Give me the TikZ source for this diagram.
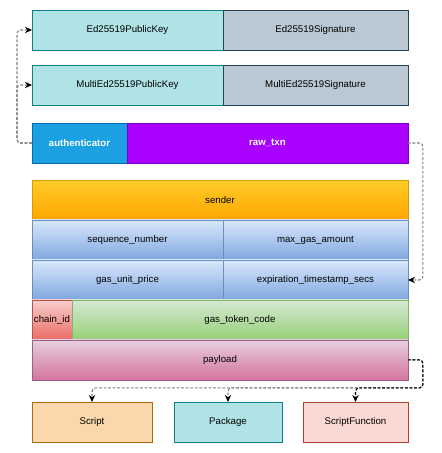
\documentclass[tikz,border=0pt]{standalone}
\usepackage{fontspec}
\setmainfont{Liberation Sans}
\usetikzlibrary{positioning,arrows.meta}

\definecolor{keyfill}{HTML}{B0E3E6}
\definecolor{keyline}{HTML}{0E8088}
\definecolor{sigfill}{HTML}{BAC8D3}
\definecolor{sigline}{HTML}{23445D}
\definecolor{authfill}{HTML}{1BA1E2}
\definecolor{authline}{HTML}{006EAF}
\definecolor{rawfill}{HTML}{AA00FF}
\definecolor{rawline}{HTML}{7700CC}
\definecolor{sendtop}{HTML}{FFCD28}
\definecolor{sendbot}{HTML}{FFA500}
\definecolor{sendline}{HTML}{D79B00}
\definecolor{bluetop}{HTML}{DAE8FC}
\definecolor{bluebot}{HTML}{7EA6E0}
\definecolor{blueline}{HTML}{6C8EBF}
\definecolor{redtop}{HTML}{F8CECC}
\definecolor{redbot}{HTML}{EA6B66}
\definecolor{redline}{HTML}{B85450}
\definecolor{greentop}{HTML}{D5E8D4}
\definecolor{greenbot}{HTML}{97D077}
\definecolor{greenline}{HTML}{82B366}
\definecolor{pinktop}{HTML}{E6D0DE}
\definecolor{pinkbot}{HTML}{D5739D}
\definecolor{pinkline}{HTML}{996185}
\definecolor{scriptfill}{HTML}{FAD7AC}
\definecolor{scriptline}{HTML}{B46504}
\definecolor{funcfill}{HTML}{FAD9D5}
\definecolor{funcline}{HTML}{AE4132}

\begin{document}
\begin{tikzpicture}[x=0.02cm, y=-0.02cm,
    field/.style={draw, line width=0.45pt, minimum height=0.8cm, inner sep=0pt, outer sep=0pt,
        font=\fontsize{5.5}{6.5}\selectfont},
    keybox/.style={field, fill=keyfill, draw=keyline},
    sigbox/.style={field, fill=sigfill, draw=sigline},
    bluebox/.style={field, top color=bluetop, bottom color=bluebot, draw=blueline},
    link/.style={dash pattern=on 1.6pt off 1pt, line width=0.6pt, rounded corners=2pt,
        -{Stealth[length=4pt,width=3.6pt,black]}},
    greylink/.style={link, draw=black!50}]
	\useasboundingbox (0,0) rectangle (441,453);

	% Signature variants of the authenticator
	\node (edpk) at (32,10) [keybox, anchor=north west, minimum width=3.82cm] {Ed25519PublicKey};
	\node (edsig) [sigbox, right=0pt of edpk, minimum width=3.70cm] {Ed25519Signature};
	\node (multipk) at (32,65) [keybox, anchor=north west, minimum width=3.82cm] {MultiEd25519PublicKey};
	\node (multisig) [sigbox, right=0pt of multipk, minimum width=3.70cm] {MultiEd25519Signature};

	% The signed transaction
	\node (auth) at (32,123) [field, anchor=north west, minimum width=1.9cm,
		fill=authfill, draw=authline, text=white, font=\fontsize{5.5}{6.5}\selectfont\bfseries] {authenticator};
	\node (raw) [field, right=0pt of auth, minimum width=5.62cm,
		fill=rawfill, draw=rawline, text=white, font=\fontsize{5.5}{6.5}\selectfont\bfseries] {raw\_txn};

	% Then the fields of raw_txn
	\node (sender) at (32,180) [field, anchor=north west, minimum width=7.52cm,
		top color=sendtop, bottom color=sendbot, draw=sendline] {sender};
	\node (seqnum) [bluebox, below=0pt of sender.south west, anchor=north west, minimum width=3.82cm] {sequence\_number};
	\node (maxgas) [bluebox, right=0pt of seqnum, minimum width=3.70cm] {max\_gas\_amount};
	\node (gasprice) [bluebox, below=0pt of seqnum, minimum width=3.82cm] {gas\_unit\_price};
	\node (expiry) [bluebox, right=0pt of gasprice, minimum width=3.70cm] {expiration\_timestamp\_secs};
	\node (chain) [field, below=0pt of gasprice.south west, anchor=north west, minimum width=0.8cm,
		top color=redtop, bottom color=redbot, draw=redline] {chain\_id};
	\node (token) [field, right=0pt of chain, minimum width=6.72cm,
		top color=greentop, bottom color=greenbot, draw=greenline] {gas\_token\_code};
	\node (payload) [field, below=0pt of chain.south west, anchor=north west, minimum width=7.52cm,
		top color=pinktop, bottom color=pinkbot, draw=pinkline] {payload};

	% Now add the payload kinds
	\node (script) at (32,402) [field, anchor=north west, minimum width=2.4cm,
		fill=scriptfill, draw=scriptline] {Script};
	\node (package) at (174,402) [keybox, anchor=north west, minimum width=2.16cm] {Package};
	\node (scriptfn) at (303,402) [field, anchor=north west, minimum width=2.1cm,
		fill=funcfill, draw=funcline] {ScriptFunction};

	% Connectors
	\draw [greylink] (auth.west) -- ++(-15,0) |- (edpk.west);
	\draw [greylink] (auth.west) -- ++(-15,0) |- (multipk.west);
	\draw [greylink] (raw.east) -- ++(15,0) |- (expiry.east);
	\draw [greylink] (payload.east) -- ++(15,0) -- ++(0,28) -| (script.north);
	\draw [greylink] (payload.east) -- ++(15,0) -- ++(0,28) -| (package.north);
	\draw [link] (payload.east) -- ++(15,0) -- ++(0,28) -| (scriptfn.north);
\end{tikzpicture}
\end{document}
